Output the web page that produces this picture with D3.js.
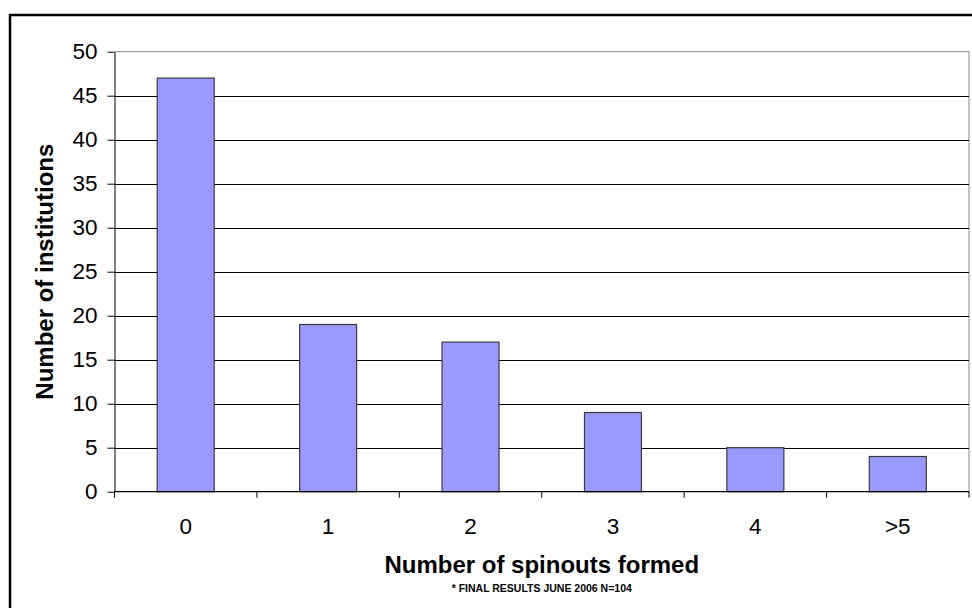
<!DOCTYPE html>
<html>
<head>
<meta charset="utf-8">
<script src="https://cdn.jsdelivr.net/npm/d3@7"></script>
<style>
  html, body { margin: 0; padding: 0; background: #fff; }
  svg { display: block; }
  text { font-family: "Liberation Sans", Arial, sans-serif; fill: #000; }
</style>
</head>
<body>
<script>
// Spinout counts per institution
const categories = ["0", "1", "2", "3", "4", ">5"];
const institutions = [47, 19, 17, 9, 5, 4];
const yTicks = [0, 5, 10, 15, 20, 25, 30, 35, 40, 45, 50];

const W = 972, H = 608;
const plot = { left: 114.5, right: 969, top: 51.7, bottom: 491.7 };

const svg = d3.select("body").append("svg")
  .attr("width", W).attr("height", H);

// Outer chart frame
svg.append("rect")
  .attr("x", 10).attr("y", 15)
  .attr("width", 980).attr("height", 620)
  .attr("fill", "none").attr("stroke", "#000").attr("stroke-width", 2.5);

const x = d3.scaleBand()
  .domain(categories)
  .range([plot.left, plot.right])
  .paddingInner(0).paddingOuter(0);

const y = d3.scaleLinear()
  .domain([0, 50])
  .range([plot.bottom, plot.top]);

// Plot area outline (light grey on top and right)
svg.append("path")
  .attr("d", `M${plot.left},${plot.top}H${plot.right}V${plot.bottom}`)
  .attr("fill", "none").attr("stroke", "#a0a0a0").attr("stroke-width", 1.2);

// Horizontal gridlines
svg.append("g")
  .selectAll("line")
  .data(yTicks.filter(d => d > 0 && d < 50))
  .join("line")
  .attr("x1", plot.left).attr("x2", plot.right)
  .attr("y1", d => Math.round(y(d)) + 0.5).attr("y2", d => Math.round(y(d)) + 0.5)
  .attr("stroke", "#000").attr("stroke-width", 1);

// Bars
const barW = x.bandwidth() / 2.5;
svg.append("g")
  .selectAll("rect")
  .data(categories.map((c, i) => ({ c, v: institutions[i] })))
  .join("rect")
  .attr("x", d => x(d.c) + (x.bandwidth() - barW) / 2)
  .attr("y", d => y(d.v))
  .attr("width", barW)
  .attr("height", d => y(0) - y(d.v))
  .attr("fill", "#9999ff")
  .attr("stroke", "#3a3a3a").attr("stroke-width", 1.2);

// Y axis
const yAxis = svg.append("g")
  .attr("transform", `translate(${plot.left},0)`)
  .call(d3.axisLeft(y).tickValues(yTicks).tickSize(7).tickPadding(10).tickSizeOuter(0));
yAxis.select(".domain").attr("stroke", "#000");
yAxis.selectAll(".tick line").attr("stroke", "#000");
yAxis.selectAll(".tick text")
  .attr("font-size", 22.5)
  .attr("font-family", "Liberation Sans, Arial, sans-serif")
  .attr("fill", "#000");

// X axis: ticks sit on category boundaries
const xAxisG = svg.append("g")
  .attr("transform", `translate(0,${plot.bottom})`);
xAxisG.append("line")
  .attr("x1", plot.left).attr("x2", plot.right)
  .attr("y1", 0).attr("y2", 0)
  .attr("stroke", "#000").attr("stroke-width", 1.2);
const boundaries = categories.map(c => x(c)).concat([plot.right]);
xAxisG.selectAll(".bt")
  .data(boundaries)
  .join("line")
  .attr("class", "bt")
  .attr("x1", d => d).attr("x2", d => d)
  .attr("y1", 0).attr("y2", 6)
  .attr("stroke", "#000");
xAxisG.selectAll(".cl")
  .data(categories)
  .join("text")
  .attr("class", "cl")
  .attr("x", d => x(d) + x.bandwidth() / 2)
  .attr("y", 42)
  .attr("text-anchor", "middle")
  .attr("font-size", 22.5)
  .text(d => d);

// Axis titles
const cx = (plot.left + plot.right) / 2;
svg.append("text")
  .attr("x", cx).attr("y", 573)
  .attr("text-anchor", "middle")
  .attr("font-size", 24).attr("font-weight", "bold")
  .text("Number of spinouts formed");

svg.append("text")
  .attr("x", cx).attr("y", 591.5)
  .attr("text-anchor", "middle")
  .attr("font-size", 10.5).attr("font-weight", "bold")
  .text("* FINAL RESULTS JUNE 2006 N=104");

svg.append("text")
  .attr("transform", `translate(53,${(plot.top + plot.bottom) / 2}) rotate(-90)`)
  .attr("text-anchor", "middle")
  .attr("font-size", 24).attr("font-weight", "bold")
  .text("Number of institutions");
</script>
</body>
</html>
